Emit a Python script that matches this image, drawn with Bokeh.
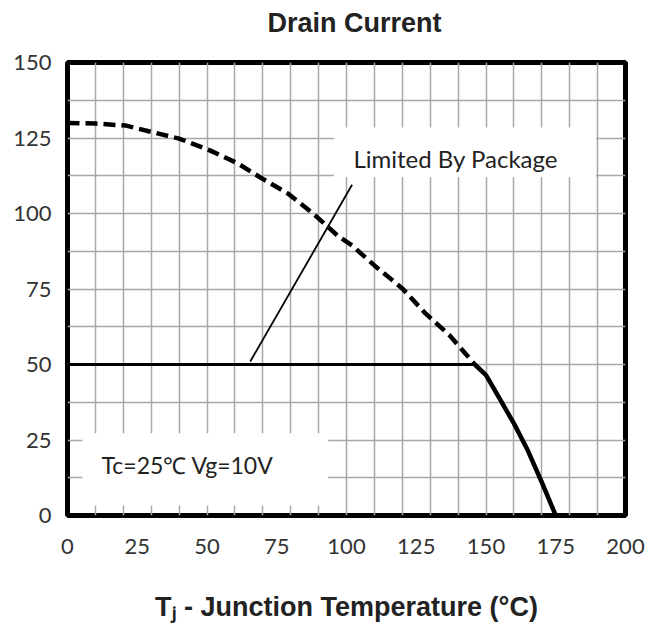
from bokeh.plotting import figure
from bokeh.models import Range1d, FixedTicker, ColumnDataSource
from bokeh.core.properties import value
from bokeh.embed import file_html
from bokeh.resources import INLINE

# ---- data ----
x_ticks = [0, 25, 50, 75, 100, 125, 150, 175, 200]
y_ticks = [0, 25, 50, 75, 100, 125, 150]
x_grid = [0, 10, 20, 30, 40, 50, 60, 70, 80, 90, 100, 110, 120, 130, 140, 150, 160, 170, 180, 190, 200]
y_grid = [0, 12.5, 25, 37.5, 50, 62.5, 75, 87.5, 100, 112.5, 125, 137.5, 150]

# package-limited region (dashed)
pkg_temp = [0, 10, 21, 31, 40, 51, 61, 69, 79, 88, 97, 102, 110, 120, 128, 137, 146]
pkg_curr = [130, 129.8, 129.1, 126.8, 124.8, 120.9, 116.6, 112, 106.6, 100, 92.5, 89.4, 82.8, 75.2, 67.2, 59.6, 50]

# silicon-limited region (solid)
si_temp = [146, 150, 155, 160, 165, 170, 175]
si_curr = [50, 46.5, 38.5, 30.5, 21.5, 11, 0]

# package limit line
lim_temp = [0, 146]
lim_curr = [50, 50]

# pointer line for the annotation
ptr_temp = [65.5, 102]
ptr_curr = [51, 109.5]

# annotation boxes (left, right, bottom, top) and texts
box_left = [5.3, 95.5]
box_right = [93.4, 189.4]
box_bottom = [3.3, 112]
box_top = [27.2, 128.5]
note_x = [12.2, 102.5]
note_y = [16.6, 118.2]
note_text = ["Tc=25\u2103 Vg=10V", "Limited By Package"]
note_size = ["23px", "24px"]

title_text = "Drain Current"
xlabel_text = "T\u2c7c - Junction Temperature (\u00b0C)"

p = figure(
    frame_width=558, frame_height=453,
    min_border_left=67, min_border_right=24, min_border_top=62, min_border_bottom=108,
    x_range=Range1d(0, 200), y_range=Range1d(0, 150),
    output_backend="svg", toolbar_location=None,
    title=title_text,
)
p.background_fill_color = "white"
p.border_fill_color = "white"
p.outline_line_color = "black"
p.outline_line_width = 5

p.title.align = "center"
p.title.text_font = "Liberation Sans"
p.title.text_font_size = "27px"
p.title.text_font_style = "bold"
p.title.text_color = "#222222"
p.title.standoff = 6
p.title.padding = (16, 0, 0, 22)

p.xaxis.ticker = FixedTicker(ticks=x_ticks)
p.yaxis.ticker = FixedTicker(ticks=y_ticks)
p.xgrid.ticker = FixedTicker(ticks=x_grid)
p.ygrid.ticker = FixedTicker(ticks=y_grid)
for g in (p.xgrid, p.ygrid):
    g.grid_line_color = "#a8a8a8"
    g.grid_line_width = 1.5

for ax in (p.xaxis, p.yaxis):
    ax.axis_line_color = None
    ax.major_tick_line_color = None
    ax.minor_tick_line_color = None
    ax.major_label_text_font = "Lato"
    ax.major_label_text_font_size = "22px"
    ax.major_label_text_color = "#333333"
p.xaxis.major_label_standoff = 17
p.yaxis.major_label_standoff = 10

p.xaxis.axis_label = xlabel_text
p.xaxis.axis_label_text_font = "Liberation Sans"
p.xaxis.axis_label_text_font_size = "27px"
p.xaxis.axis_label_text_font_style = "bold"
p.xaxis.axis_label_text_color = "#222222"
p.xaxis.axis_label_standoff = 35

# white annotation boxes covering the grid
p.quad(left=box_left, right=box_right, bottom=box_bottom, top=box_top,
       fill_color="white", line_color=None)

p.line(pkg_temp, pkg_curr, line_color="black", line_width=4.5, line_dash="12 6")
p.line(si_temp, si_curr, line_color="black", line_width=4.5, line_join="round")
p.line(lim_temp, lim_curr, line_color="black", line_width=3)
p.line(ptr_temp, ptr_curr, line_color="black", line_width=1.8)

src = ColumnDataSource(dict(x=note_x, y=note_y, t=note_text, s=note_size))
p.text(x="x", y="y", text="t", source=src, text_font=value("Lato"),
       text_font_size="s", text_color="#222222", text_baseline="middle")

open("out.html", "w").write(file_html(p, INLINE))
